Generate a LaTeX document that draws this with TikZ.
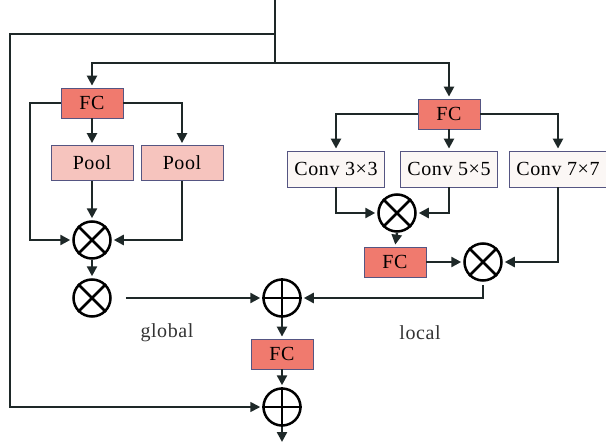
\documentclass[tikz,border=0pt]{standalone}
\usepackage{fontspec}
\setmainfont{Liberation Serif}[LetterSpace=3]
\usepackage{tikz}
\usetikzlibrary{arrows.meta}
\definecolor{fcred}{RGB}{240,122,110}
\definecolor{poolpink}{RGB}{246,196,190}
\definecolor{convwhite}{RGB}{251,247,245}
\definecolor{edgeblue}{RGB}{85,85,130}
\definecolor{linegray}{RGB}{30,40,40}

\begin{document}
\begin{tikzpicture}[x=1pt, y=-1pt, >={Triangle[length=10pt,width=10pt]},
  block/.style={rectangle, draw=edgeblue, line width=0.8pt, inner sep=0pt, font=\fontsize{20}{23}\selectfont},
  fcbox/.style={block, fill=fcred, minimum width=62pt, minimum height=30pt},
  poolbox/.style={block, fill=poolpink, minimum width=82pt, minimum height=35pt},
  convbox/.style={block, fill=convwhite, minimum width=97pt, minimum height=36pt},
  op/.style={circle, draw=black, line width=2.5pt, minimum size=37pt, inner sep=0pt},
  link/.style={draw=linegray, line width=2.4pt, shorten >=2pt}]

  \useasboundingbox (0,0) rectangle (606,444);

  % global branch
  \node[fcbox] (fcg) at (92,103) {FC};
  \node[poolbox] (poola) at (92,163) {Pool};
  \node[poolbox] (poolb) at (182,163) {Pool};
  \node[op] (mulga) at (92,240) {};
  \node[op] (mulgb) at (92,298) {};

  % local branch
  \node[fcbox] (fcl) at (449,114) {FC};
  \node[convbox] (conva) at (336,169) {Conv 3×3};
  \node[convbox] (convb) at (449,169) {Conv 5×5};
  \node[convbox] (convc) at (558,169) {Conv 7×7};
  \node[op] (mulla) at (397,213) {};
  \node[fcbox] (fcm) at (395,262) {FC};
  \node[op] (mullb) at (483,262) {};

  % fusion
  \node[op] (addn) at (282,298) {};
  \node[fcbox] (fco) at (282,354) {FC};
  \node[op] (addr) at (282,407) {};
  \node[font=\fontsize{20}{23}\selectfont, text=black!80] (glob) at (167,333) {global};
  \node[font=\fontsize{20}{23}\selectfont, text=black!80] (loc) at (420,333) {local};

  % crosses and pluses
  \foreach \n in {mulga,mulgb,mulla,mullb}
    \draw[line width=2.5pt] (\n.north east) -- (\n.south west) (\n.north west) -- (\n.south east);
  \foreach \n in {addn,addr}
    \draw[line width=2.5pt] (\n.north) -- (\n.south) (\n.west) -- (\n.east);

  \coordinate (in) at (275,0);
  \coordinate (split) at (275,34);
  \coordinate (fork) at (275,63);
  \coordinate (skip) at (10,407);
  \coordinate (gleft) at (30,240);
  \coordinate (out) at (282,444);

  % input and skip path
  \draw[link, shorten >=0pt] (in) -- (fork);
  \draw[link, ->] (fork) -| (fcg.north);
  \draw[link, ->] (fork) -| (fcl.north);
  \draw[link, ->, line width=1.7pt] (split) -| (skip) -- (addr.west);

  % global connections
  \draw[link, ->] (fcg.south) -- (poola.north);
  \draw[link, ->] (fcg.east) -| (poolb.north);
  \draw[link, ->] (fcg.west) -| (gleft) -- (mulga.west);
  \draw[link, ->] (poola.south) -- (mulga.north);
  \draw[link, ->] (poolb.south) |- (mulga.east);
  \draw[link, ->] (mulga.south) -- (mulgb.north);
  \draw[link, ->, shorten <=14pt] (mulgb.east) -- (addn.west);

  % local connections
  \draw[link, ->] (fcl.west) -| (conva.north);
  \draw[link, ->] (fcl.south) -- (convb.north);
  \draw[link, ->] (fcl.east) -| (convc.north);
  \draw[link, ->] (conva.south) |- (mulla.west);
  \draw[link, ->] (convb.south) |- (mulla.east);
  \draw[link, ->] (mulla.south) -- (fcm.north);
  \draw[link, ->] (fcm.east) -- (mullb.west);
  \draw[link, ->] (convc.south) |- (mullb.east);
  \draw[link, ->, shorten <=3pt] (mullb.south) |- (addn.east);

  % output
  \draw[link, ->] (addn.south) -- (fco.north);
  \draw[link, ->] (fco.south) -- (addr.north);
  \draw[link, ->] (addr.south) -- (out);
\end{tikzpicture}
\end{document}
